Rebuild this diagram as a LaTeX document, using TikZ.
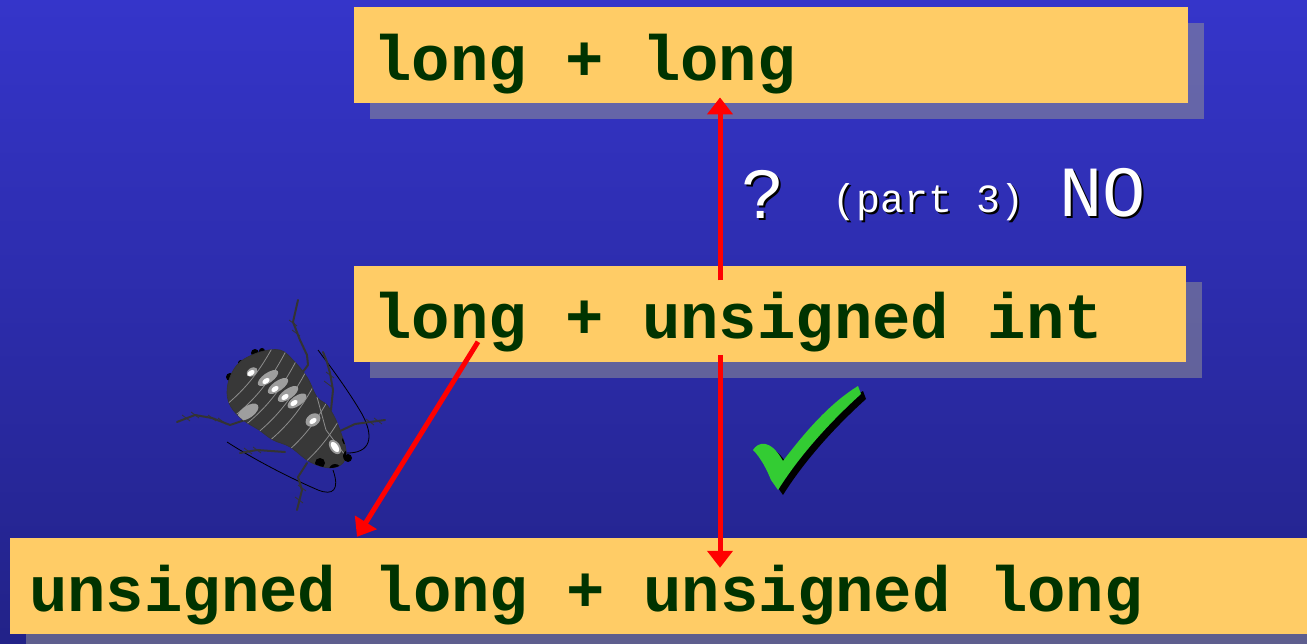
\documentclass[tikz,border=0pt]{standalone}
\usepackage{fontspec}
\setmonofont{Liberation Mono}
\usepackage{xcolor}
\usepackage{tikz}
\usetikzlibrary{positioning,arrows.meta,calc,shadows}
\definecolor{slideblue}{RGB}{53,53,202}
\definecolor{slidemid}{RGB}{46,46,180}
\definecolor{slidedeep}{RGB}{34,34,136}
\definecolor{boxorange}{RGB}{255,204,102}
\definecolor{codegreen}{RGB}{0,51,0}
\definecolor{tickgreen}{RGB}{51,204,51}
\definecolor{bugbody}{RGB}{56,56,56}
\newcommand\monospace{\spaceskip=.6em\relax}
\tikzset{
  typebox/.style = {fill=boxorange, inner xsep=19pt, inner ysep=0pt, text height=73pt, text depth=23pt,
                    text=codegreen, font=\fontsize{64}{70}\selectfont\ttfamily\bfseries,
                    execute at begin node=\monospace,
                    drop shadow={shadow xshift=16pt, shadow yshift=-16pt, fill=white!58!black, opacity=.53}},
  conv/.style    = {-{Triangle[length=17pt,width=25pt]}, line width=5pt, draw=red},
  note/.style    = {anchor=base west, inner sep=0pt, font=\fontsize{72}{72}\selectfont\ttfamily},
  small note/.style = {note, font=\fontsize{40}{40}\selectfont\ttfamily},
  bugleg/.style  = {draw=black!80, line width=2pt, line join=round, line cap=round},
  feeler/.style  = {draw=black, line width=.8pt},
  bugspot/.style = {fill=black!38},
}

\begin{document}
\begin{tikzpicture}[x=1pt,y=-1pt]
  \useasboundingbox (0,0) rectangle (1307,644);
  \clip (0,0) rectangle (1307,644);
  \shade[top color=slideblue, middle color=slidemid, bottom color=slidedeep] (0,0) rectangle (1307,644);

  % the three types
  \node[typebox, anchor=north west, text width=796pt] (top) at (354,7) {long + long};
  \node[typebox, text width=794pt, below=162pt of top.south west, anchor=north west] (mid) {long + unsigned int};
  \node[typebox, text width=1282pt, below=176pt of mid.south west, anchor=north west, xshift=-344pt] (bot)
    {unsigned long + unsigned long};

  % conversions
  \coordinate (axis) at (720,0);
  \draw[conv] ([yshift=-15pt]mid.north -| axis) -- ([yshift=6pt]top.south -| axis);
  \draw[conv] ([yshift=7pt]mid.south -| axis) -- ([yshift=-30pt]bot.north -| axis);
  \draw[conv] ([shift={(124pt,20pt)}]mid.south west) -- ([shift={(347pt,1pt)}]bot.north west);

  % labels with a dark drop
  \foreach \d/\c in {2/black,0/white} {
    \node[note, text=\c] (q) at (741+\d,219+\d) {?};
    \node[small note, text=\c] (part) at (832+\d,213+\d) {(part 3)};
    \node[note, text=\c] (no) at (1059+\d,217+\d) {NO};
  }

  % tick
  \foreach \d/\c in {5/black,0/tickgreen}
    \fill[\c, shift={(\d,\d)}] (753,450) .. controls (758,442) and (770,438) .. (783,461)
      .. controls (808,428) and (832,402) .. (858,386) -- (861,394)
      .. controls (830,422) and (800,455) .. (778,490) -- (771,480)
      .. controls (767,470) and (761,458) .. (753,450) -- cycle;

  % bug
  \def\bugoutline{plot[smooth cycle, tension=.6] coordinates
    {(240,362) (260,352) (280,350) (293,360) (307,377) (317,397) (327,405) (335,418) (341,433) (346,450)
     (343,463) (330,468) (310,462) (290,447) (273,440) (259,430) (243,420) (231,407) (227,393) (230,377)}}
  \draw[feeler] (345,453) .. controls (372,454) and (374,436) .. (362,414) .. controls (348,390) and (330,366) .. (318,350);
  \draw[feeler] (333,470) .. controls (340,490) and (333,496) .. (318,490) .. controls (290,478) and (255,460) .. (227,442);
  \draw[bugleg] (302,373) -- (308,365) -- (307,355) -- (300,340) -- (293,322) -- (298,300);
  \draw[bugleg] (331,410) -- (333,390) -- (330,373) -- (327,362) -- (323,352);
  \draw[bugleg] (338,432) -- (355,424) -- (385,420);
  \draw[bugleg] (307,463) -- (298,477) -- (302,490) -- (297,510);
  \draw[bugleg] (285,452) -- (257,450) -- (240,453);
  \draw[bugleg] (245,420) -- (230,425) -- (212,418) -- (195,415) -- (177,422);
  \foreach \x/\y in {296/333,293/323,302/488,299/500,195/415,186/418,370/422,378/421,257/450,248/451,212/418,222/421,330/375,328/384}
    \draw[black!80, line width=.8pt] (\x-4,\y-3) -- (\x+4,\y+3);
  \fill[black] (255,353) circle (4pt) (262,351) circle (3pt) (230,377) circle (4pt) (241,363) circle (3pt);
  \path[fill=bugbody, draw=black!80, line width=.6pt] \bugoutline;
  \begin{scope}
    \clip \bugoutline;
    \foreach \t in {12,26,40,54,68,88,108}
      \draw[black!45, line width=.8pt] ($(232,372)+\t*(0.75,0.66)+(36,-41)$) to[bend left=14] ($(232,372)+\t*(0.75,0.66)-(36,-41)$);
    \draw[black!45, line width=.8pt] (317,397) -- (326,430) -- (345,455);
    \foreach \x/\y/\a/\b in {252/372/6/4,268/378/12/5,278/386/12/5,288/394/12/5,297/401/11/5,248/412/12/6,313/420/8/6}
      \fill[bugspot, rotate around={35:(\x,\y)}] (\x,\y) ellipse [x radius=\a pt, y radius=\b pt];
    \foreach \x/\y in {251/373,266/381,275/389,285/397,294/403,313/421}
      \fill[white, rotate around={35:(\x,\y)}] (\x,\y) ellipse [x radius=4pt, y radius=2.5pt];
    \fill[black] (347,440) circle (5pt) (349,456) circle (6pt) (320,463) circle (5pt) (335,470) circle (6pt);
  \end{scope}
  \fill[black!40, rotate around={-55:(335,447)}] (335,447) ellipse [x radius=8pt, y radius=5pt];
  \fill[white, rotate around={-55:(335,447)}] (335,447) ellipse [x radius=6pt, y radius=3pt];
  \fill[black] (348,458) circle (4pt);
\end{tikzpicture}
\end{document}
